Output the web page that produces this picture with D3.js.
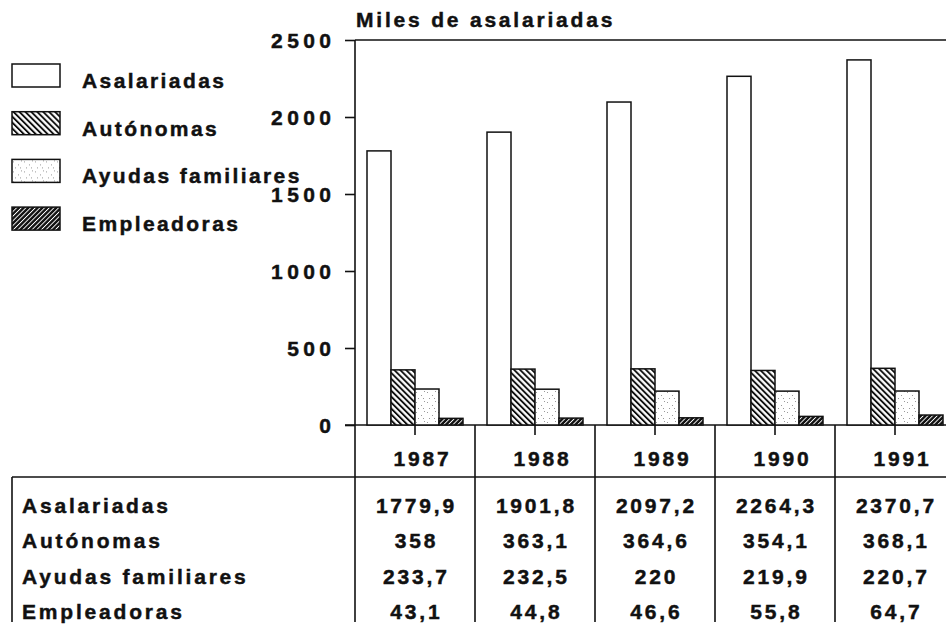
<!DOCTYPE html>
<html>
<head>
<meta charset="utf-8">
<script src="https://cdn.jsdelivr.net/npm/d3@7"></script>
<style>
  body { margin: 0; background: #fff; }
  svg { display: block; }
  text { font-family: "Liberation Sans", Arial, sans-serif; font-weight: bold; fill: #111; stroke: #111; stroke-width: 0.45px; }
</style>
</head>
<body>
<svg id="chart" width="946" height="629"></svg>
<script>
// Mujeres ocupadas por situación profesional (miles)
const years = ["1987", "1988", "1989", "1990", "1991"];
const seriesNames = ["Asalariadas", "Autónomas", "Ayudas familiares", "Empleadoras"];
const asalariadas = [1779.9, 1901.8, 2097.2, 2264.3, 2370.7];
const autonomas = [358, 363.1, 364.6, 354.1, 368.1];
const ayudas = [233.7, 232.5, 220, 219.9, 220.7];
const empleadoras = [43.1, 44.8, 46.6, 55.8, 64.7];
const yTicks = [0, 500, 1000, 1500, 2000, 2500];
const axisTitle = "Miles de asalariadas";

const values = [asalariadas, autonomas, ayudas, empleadoras];
const fmt = v => String(v).replace(".", ",");

const svg = d3.select("#chart");
const W = 946, H = 629;
const axisX = 355, baseY = 425, topY = 40, tableTop = 477, tableBottom = 622, tableLeft = 12;
const ls = 2.8;

// fill patterns
const defs = svg.append("defs");
const hatchBack = defs.append("pattern").attr("id", "p-aut")
  .attr("patternUnits", "userSpaceOnUse").attr("width", 4.2).attr("height", 4.2)
  .attr("patternTransform", "rotate(-45)");
hatchBack.append("rect").attr("width", 4.2).attr("height", 4.2).attr("fill", "#fff");
hatchBack.append("rect").attr("width", 1.9).attr("height", 4.2).attr("fill", "#111");

const stipple = defs.append("pattern").attr("id", "p-ayu")
  .attr("patternUnits", "userSpaceOnUse").attr("width", 11).attr("height", 10);
stipple.append("rect").attr("width", 11).attr("height", 10).attr("fill", "#fff");
[[1, 2], [6, 5], [3, 8], [9, 1], [8, 8]].forEach(([cx, cy]) =>
  stipple.append("rect").attr("x", cx).attr("y", cy).attr("width", 1).attr("height", 1).attr("fill", "#999"));

const hatchFwd = defs.append("pattern").attr("id", "p-emp")
  .attr("patternUnits", "userSpaceOnUse").attr("width", 3.3).attr("height", 3.3)
  .attr("patternTransform", "rotate(45)");
hatchFwd.append("rect").attr("width", 3.3).attr("height", 3.3).attr("fill", "#111");
hatchFwd.append("rect").attr("width", 0.9).attr("height", 3.3).attr("fill", "#fff");

const fills = ["#fff", "url(#p-aut)", "url(#p-ayu)", "url(#p-emp)"];

// scales
const x = d3.scaleBand().domain(years).range([axisX, axisX + 120 * years.length]).padding(0);
const inner = d3.scaleBand().domain(seriesNames).range([-48, 48]).padding(0);
const y = d3.scaleLinear().domain([0, 2500]).range([baseY, topY]);

// frame and table rules
const rules = svg.append("g").attr("stroke", "#111").attr("stroke-width", 1.6).attr("fill", "none");
rules.append("line").attr("x1", axisX).attr("x2", W).attr("y1", topY).attr("y2", topY);
rules.append("line").attr("x1", axisX - 10).attr("x2", W).attr("y1", baseY).attr("y2", baseY);
rules.append("line").attr("x1", axisX).attr("x2", axisX).attr("y1", topY).attr("y2", tableBottom);
rules.append("line").attr("x1", tableLeft).attr("x2", W).attr("y1", tableTop).attr("y2", tableTop);
rules.append("line").attr("x1", tableLeft).attr("x2", tableLeft).attr("y1", tableTop).attr("y2", tableBottom);
years.forEach(yr => {
  const xr = x(yr) + x.bandwidth();
  rules.append("line").attr("x1", xr).attr("x2", xr).attr("y1", baseY).attr("y2", tableBottom);
  const xc = x(yr) + x.bandwidth() / 2;
  rules.append("line").attr("x1", xc).attr("x2", xc).attr("y1", baseY).attr("y2", baseY + 10);
});

// y axis
const yAxis = d3.axisLeft(y).tickValues(yTicks).tickFormat(d3.format("d"))
  .tickSize(10).tickSizeOuter(0).tickPadding(14);
const ag = svg.append("g").attr("transform", `translate(${axisX},0)`).call(yAxis);
ag.select(".domain").remove();
ag.selectAll(".tick line").attr("stroke", "#111").attr("stroke-width", 1.6);
ag.selectAll(".tick text")
  .attr("font-size", 21).attr("font-family", "Liberation Sans, Arial, sans-serif")
  .attr("font-weight", "bold").attr("fill", "#111")
  .style("letter-spacing", "4.4px").attr("dx", "4.4px").attr("dy", "0.36em");

svg.append("text").attr("x", axisX + 1).attr("y", 27).attr("font-size", 21)
  .style("letter-spacing", ls + "px").text(axisTitle);

// bars
const groups = svg.append("g").selectAll("g").data(years).join("g")
  .attr("transform", d => `translate(${x(d) + x.bandwidth() / 2},0)`);
groups.selectAll("rect").data((d, i) => seriesNames.map((s, k) => ({ s, k, v: values[k][i] })))
  .join("rect")
  .attr("x", d => inner(d.s))
  .attr("width", inner.bandwidth())
  .attr("y", d => y(d.v))
  .attr("height", d => baseY - y(d.v))
  .attr("fill", d => fills[d.k])
  .attr("stroke", "#111").attr("stroke-width", 1.5);

// legend
const leg = svg.append("g").selectAll("g").data(seriesNames).join("g")
  .attr("transform", (d, i) => `translate(12,${64 + i * 47.7})`);
leg.append("rect").attr("width", 48).attr("height", 23)
  .attr("fill", (d, i) => fills[i]).attr("stroke", "#111").attr("stroke-width", 1.5);
leg.append("text").attr("x", 70).attr("y", 24).attr("font-size", 21)
  .style("letter-spacing", "2.4px").text(d => d);

// table: year header
svg.append("g").selectAll("text").data(years).join("text")
  .attr("x", d => x(d) + x.bandwidth() / 2 + 6 + ls / 2).attr("y", 466)
  .attr("text-anchor", "middle").attr("font-size", 21)
  .style("letter-spacing", ls + "px").text(d => d);

// table: rows
const rowY = [513, 548.3, 583.6, 619];
const rows = svg.append("g").selectAll("g").data(seriesNames).join("g");
rows.append("text").attr("x", 22).attr("y", (d, i) => rowY[i]).attr("font-size", 21)
  .style("letter-spacing", ls + "px").text(d => d);
rows.each(function (s, k) {
  d3.select(this).selectAll("text.v").data(values[k]).join("text").attr("class", "v")
    .attr("x", (v, i) => x(years[i]) + x.bandwidth() / 2 + ls / 2)
    .attr("y", rowY[k]).attr("text-anchor", "middle").attr("font-size", 21)
    .style("letter-spacing", ls + "px").text(v => fmt(v));
});
</script>
</body>
</html>
